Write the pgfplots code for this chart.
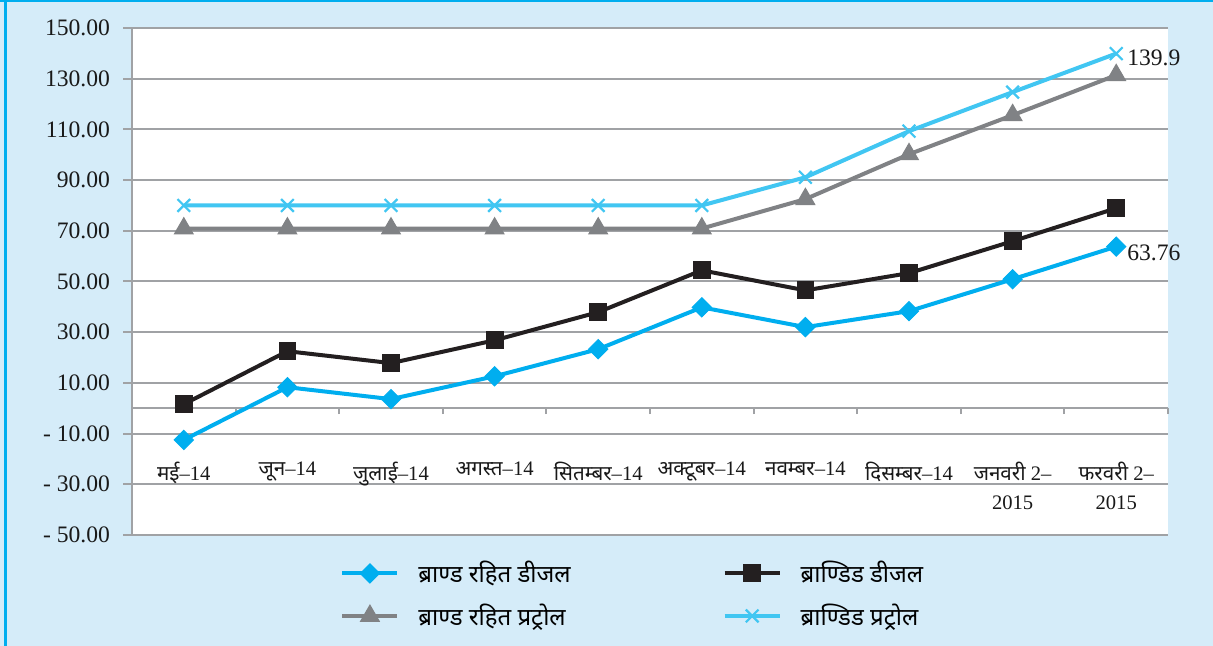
\documentclass[border=0pt]{standalone}
\usepackage{fontspec}
\setmainfont{Liberation Serif}
\newfontfamily\dev[Script=Devanagari]{Noto Sans}
\usepackage{pgfplots}
\usepackage{pgfplotstable}
\pgfplotsset{compat=1.18}

\definecolor{bgblue}{HTML}{D5ECF9}
\definecolor{frameblue}{HTML}{00AEEF}
\definecolor{dieselA}{HTML}{00AEEF}
\definecolor{dieselB}{HTML}{231F20}
\definecolor{petrolA}{HTML}{808285}
\definecolor{petrolB}{HTML}{41C6F2}
\definecolor{gridgray}{HTML}{A0A2A5}

% monthly prices, categories at 0.5, 1.5, ... 9.5
\pgfplotstableread{
x y
0.5 -12.5
1.5 8.3
2.5 3.6
3.5 12.6
4.5 23.3
5.5 39.8
6.5 32.0
7.5 38.3
8.5 50.9
9.5 63.76
}\dieselFree
\pgfplotstableread{
x y
0.5 1.6
1.5 22.5
2.5 17.8
3.5 26.8
4.5 37.9
5.5 54.4
6.5 46.5
7.5 53.3
8.5 65.9
9.5 78.9
}\dieselBrand
\pgfplotstableread{
x y
0.5 70.9
1.5 70.9
2.5 70.9
3.5 70.9
4.5 70.9
5.5 70.9
6.5 82.5
7.5 100.2
8.5 115.6
9.5 131.4
}\petrolFree
\pgfplotstableread{
x y
0.5 80.0
1.5 80.0
2.5 80.0
3.5 80.0
4.5 80.0
5.5 80.0
6.5 91.1
7.5 109.3
8.5 124.7
9.5 139.9
}\petrolBrand

\begin{document}
\begin{tikzpicture}
% panel background and frame
\fill[bgblue] (0,0) rectangle (606.5pt,323pt);
\fill[frameblue] (2pt,0) rectangle (3.6pt,323pt);
\fill[frameblue] (0,322pt) rectangle (606.5pt,323pt);
\begin{axis}[
  at={(66pt,55.5pt)}, anchor=south west,
  scale only axis, width=518pt, height=253.5pt,
  xmin=0, xmax=10, ymin=-50, ymax=150,
  clip=false,
  axis background/.style={fill=white},
  axis y line*=left, axis x line*=middle,
  y axis line style={gridgray, line width=1pt, -},
  x axis line style={gridgray, line width=1pt, -},
  ytick={-50,-30,...,150},
  yticklabels={- 50.00,- 30.00,- 10.00,10.00,30.00,50.00,70.00,90.00,110.00,130.00,150.00},
  ymajorgrids,
  grid style={gridgray, line width=1pt},
  ytick style={gridgray, line width=1pt},
  major tick length=4.5pt,
  minor tick length=3pt,
  tick align=outside,
  yticklabel style={font=\fontsize{11.8}{13}\selectfont, text=black!90, xshift=-3pt},
  xtick={0.5,1.5,...,9.5},
  major x tick style={draw=none},
  minor xtick={1,2,...,10},
  minor x tick style={gridgray, line width=1pt},
  xticklabels={
    {\dev मई}–14,
    {\dev जून}–14,
    {\dev जुलाई}–14,
    {\dev अगस्त}–14,
    {\dev सितम्बर}–14,
    {\dev अक्टूबर}–14,
    {\dev नवम्बर}–14,
    {\dev दिसम्बर}–14,
    {\dev जनवरी} 2–\\2015,
    {\dev फरवरी} 2–\\2015},
  xticklabel style={font=\fontsize{10.3}{14.5}\selectfont, align=center, yshift=-19pt, text=black!90},
  legend columns=2,
  legend style={at={(0.195,-0.035)}, anchor=north west, draw=none, fill=none,
    font=\fontsize{12}{14}\selectfont, row sep=5pt,
    /tikz/every even column/.append style={column sep=74pt}},
  legend cell align=left,
  legend image code/.code={\draw[mark repeat=2,mark phase=2,#1] plot coordinates {(0pt,0pt) (13.75pt,0pt) (27.5pt,0pt)};
    \path (35pt,0pt);},
]
\addplot[dieselA, line width=2pt, mark=square*, mark size=3.4pt, mark options={rotate=45, solid, fill=dieselA, draw=dieselA, line width=0.5pt}] table[x=x,y=y] {\dieselFree};
\addlegendentry{\dev ब्राण्ड रहित डीजल}
\addplot[dieselB, line width=2pt, mark=square*, mark size=4.2pt, mark options={solid, fill=dieselB, line width=0.5pt}] table[x=x,y=y] {\dieselBrand};
\addlegendentry{\dev ब्राण्डिड डीजल}
\addplot[petrolA, line width=2pt, mark=triangle*, mark size=5.4pt, mark options={solid, fill=petrolA, line width=0.5pt}] table[x=x,y=y] {\petrolFree};
\addlegendentry{\dev ब्राण्ड रहित प्रट्रोल}
\addplot[petrolB, line width=2pt, mark=x, mark size=4.5pt, mark options={solid, line width=1.1pt}] table[x=x,y=y] {\petrolBrand};
\addlegendentry{\dev ब्राण्डिड प्रट्रोल}
% value labels on the last points
\addplot[forget plot, draw=none, nodes near coords={139.9},
  every node near coord/.append style={anchor=west, xshift=2pt, yshift=-2pt, font=\fontsize{11.8}{13}\selectfont, text=black!90}]
  coordinates {(9.5,139.9)};
\addplot[forget plot, draw=none, nodes near coords={63.76},
  every node near coord/.append style={anchor=west, xshift=2pt, yshift=-3pt, font=\fontsize{11.8}{13}\selectfont, text=black!90}]
  coordinates {(9.5,63.76)};
\end{axis}
\end{tikzpicture}
\end{document}
